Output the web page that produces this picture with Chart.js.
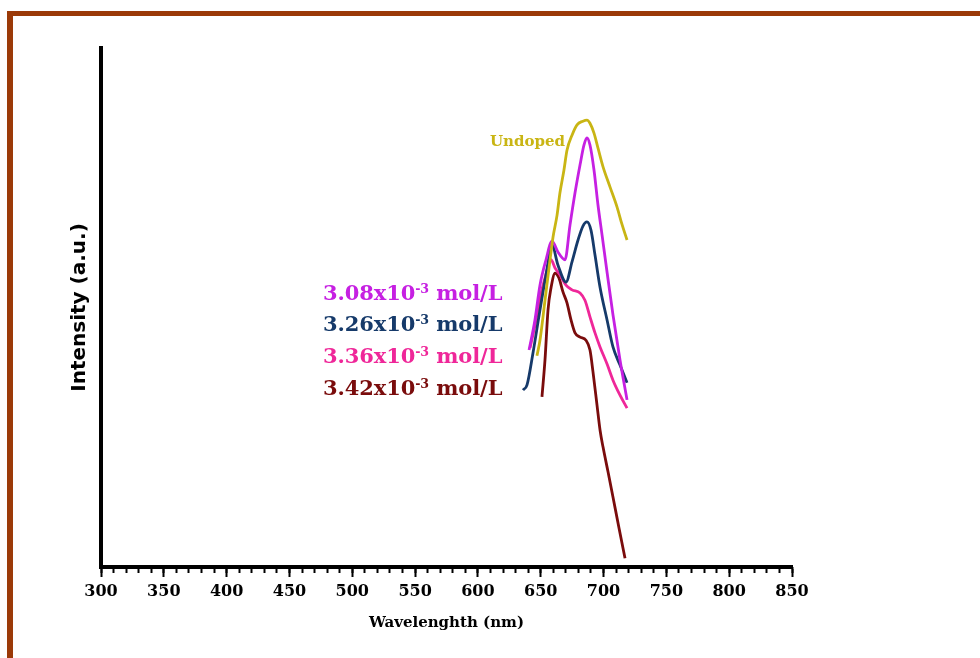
<!DOCTYPE html>
<html>
<head>
<meta charset="utf-8">
<script src="https://cdn.jsdelivr.net/npm/chart.js@4.4.1/dist/chart.umd.min.js"></script>
<style>
    body { margin: 0; background: #fff; }
    #wrap { position: relative; width: 980px; height: 658px; overflow: hidden; }
    #frame {
        position: absolute; left: 7px; top: 11px; width: 1000px; height: 700px;
        border-top: 5px solid #9b3a08; border-left: 6px solid #9b3a08;
        pointer-events: none;
    }
    .lbl {
        position: absolute; font-family: "DejaVu Serif", serif; font-weight: bold;
        white-space: nowrap; line-height: 1;
    }
    .lbl sup { font-size: 60%; vertical-align: 0.55em; line-height: 0; }
</style>
</head>
<body>
<div id="wrap">
    <canvas id="specChart"></canvas>
    <div id="frame"></div>
    <div class="lbl" style="left:490px; top:134px; font-size:15px; color:#c9b514;">Undoped</div>
    <div class="lbl" style="left:323px; top:282px; font-size:21px; letter-spacing:-0.1px; color:#c620e2;">3.08x10<sup>-3</sup> mol/L</div>
    <div class="lbl" style="left:323px; top:313px; font-size:21px; letter-spacing:-0.1px; color:#163a6a;">3.26x10<sup>-3</sup> mol/L</div>
    <div class="lbl" style="left:323px; top:345px; font-size:21px; letter-spacing:-0.1px; color:#ef2799;">3.36x10<sup>-3</sup> mol/L</div>
    <div class="lbl" style="left:323px; top:377px; font-size:21px; letter-spacing:-0.1px; color:#7a0c0c;">3.42x10<sup>-3</sup> mol/L</div>
</div>
<script>
// Wavelength (nm) / intensity (a.u.)
const undopedNm = [647.0, 649.4, 653.4, 657.4, 659.8, 663.0, 665.3, 668.5, 670.9, 674.9, 678.9, 683.6, 686.8, 689.2, 692.4, 695.6, 699.6, 705.2, 710.7, 714.7, 718.7];
const undopedI  = [40.7, 43.7, 51.4, 59.2, 63.6, 67.8, 72.1, 76.5, 80.3, 83.2, 85.2, 85.9, 86.1, 85.5, 83.6, 80.7, 77.1, 73.2, 69.4, 66.0, 63.0];

const c308Nm = [640.7, 645.4, 649.4, 654.2, 659.0, 663.7, 669.3, 673.3, 677.3, 681.3, 684.4, 686.8, 689.2, 692.4, 695.6, 698.8, 702.8, 707.5, 713.1, 718.7];
const c308I  = [41.8, 47.6, 54.3, 59.2, 62.8, 60.7, 59.2, 65.9, 72.1, 77.5, 81.3, 82.7, 81.3, 76.5, 69.7, 64.0, 56.8, 48.6, 39.9, 32.2];

const c326Nm = [635.9, 639.1, 643.8, 649.4, 654.2, 659.0, 663.7, 670.1, 674.9, 679.7, 683.6, 686.8, 690.0, 693.2, 697.2, 702.8, 707.5, 713.1, 718.7];
const c326I  = [34.1, 35.1, 41.2, 49.5, 56.3, 62.0, 58.2, 54.9, 58.8, 63.0, 65.7, 66.5, 64.9, 60.1, 53.9, 47.6, 42.4, 38.9, 35.5];

const c336Nm = [641.5, 645.4, 649.4, 653.4, 658.2, 661.4, 665.3, 670.1, 674.9, 681.3, 685.2, 689.2, 693.2, 697.2, 702.8, 707.5, 713.1, 718.7];
const c336I  = [42.2, 46.6, 51.8, 55.7, 59.2, 57.6, 56.3, 54.3, 53.4, 52.8, 51.4, 48.2, 45.1, 42.4, 39.1, 36.0, 33.1, 30.6];

const c342Nm = [651.0, 653.4, 655.8, 658.2, 661.4, 664.5, 667.7, 670.9, 674.1, 677.3, 681.3, 686.0, 689.2, 691.6, 694.8, 697.2, 699.6, 703.6, 707.5, 712.3, 717.1];
const c342I  = [32.8, 39.9, 49.5, 53.8, 56.6, 55.7, 53.0, 50.9, 47.6, 45.1, 44.3, 43.7, 41.8, 37.6, 31.2, 26.4, 23.1, 18.3, 13.5, 7.5, 1.7];

const xMin = 300, xMax = 850;
const xLabelStep = 50, xMinorStep = 10;

function toPoints(xs, ys) {
    return xs.map((x, i) => ({ x: x, y: ys[i] }));
}

function makeSet(label, xs, ys, color) {
    return {
        label: label,
        data: toPoints(xs, ys),
        borderColor: color,
        borderWidth: 2.8,
        pointRadius: 0,
        cubicInterpolationMode: 'monotone',
        fill: false
    };
}

const ctx = document.getElementById('specChart').getContext('2d');

new Chart(ctx, {
    type: 'line',
    data: {
        datasets: [
            makeSet('Undoped', undopedNm, undopedI, '#c9b514'),
            makeSet('3.08x10-3 mol/L', c308Nm, c308I, '#c620e2'),
            makeSet('3.26x10-3 mol/L', c326Nm, c326I, '#163a6a'),
            makeSet('3.36x10-3 mol/L', c336Nm, c336I, '#ef2799'),
            makeSet('3.42x10-3 mol/L', c342Nm, c342I, '#7a0c0c')
        ]
    },
    options: {
        responsive: true,
        maintainAspectRatio: false,
        animation: false,
        layout: { padding: { left: 0, top: 48, right: 188, bottom: 0 } },
        plugins: { legend: { display: false }, tooltip: { enabled: false } },
        scales: {
            x: {
                type: 'linear',
                position: 'bottom',
                weight: 1,
                min: xMin,
                max: xMax,
                afterFit: s => { s.height = 91; },
                border: { display: true, color: '#000', width: 4 },
                grid: { display: true, drawOnChartArea: false, drawTicks: true, tickLength: 10, tickWidth: 2, tickColor: '#000' },
                ticks: {
                    stepSize: xLabelStep,
                    padding: 5,
                    color: '#000',
                    maxRotation: 0,
                    font: { family: 'DejaVu Serif', weight: 'bold', size: 16 }
                },
                title: {
                    display: true,
                    text: 'Wavelenghth (nm)',
                    color: '#000',
                    padding: { top: 0, bottom: 26 },
                    font: { family: 'DejaVu Serif', weight: 'bold', size: 15 }
                }
            },
            xMinor: {
                type: 'linear',
                position: 'bottom',
                weight: 0,
                min: xMin,
                max: xMax,
                afterFit: s => { s.height = 0; },
                border: { display: false },
                grid: { display: true, drawOnChartArea: false, drawTicks: true, tickLength: 6, tickWidth: 2, tickColor: '#000' },
                ticks: { stepSize: xMinorStep, display: false }
            },
            y: {
                min: 0,
                max: 100,
                afterFit: s => { s.width = 101; },
                border: { display: true, color: '#000', width: 4 },
                grid: { display: false },
                ticks: { display: false },
                title: {
                    display: true,
                    text: 'Intensity (a.u.)',
                    color: '#000',
                    padding: { top: 68, bottom: 0 },
                    font: { family: 'DejaVu Sans', weight: 'bold', size: 20 }
                }
            }
        }
    }
});
</script>
</body>
</html>
